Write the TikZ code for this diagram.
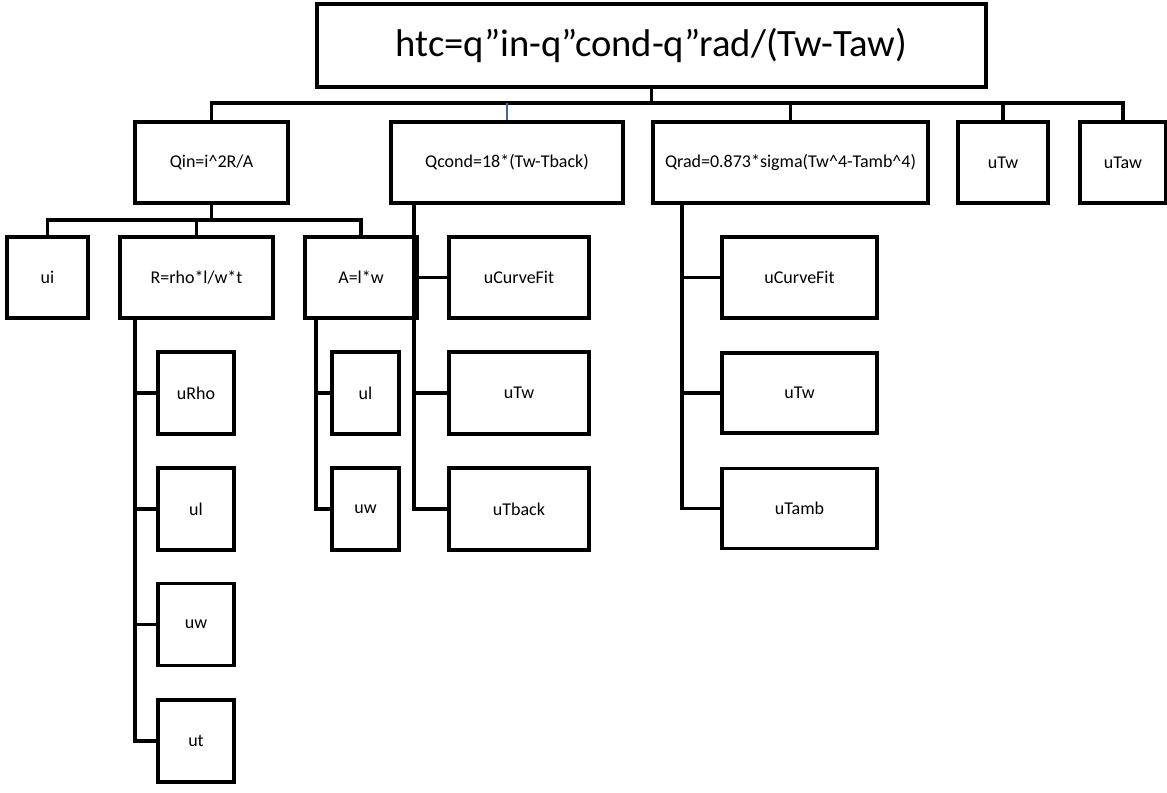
\documentclass[tikz,border=0pt]{standalone}
\usepackage{fontspec}
\setmainfont{Carlito}
\usepackage{xcolor}
\definecolor{LB}{RGB}{66,104,158}

\tikzset{
  box/.style={draw, line width=2.8pt, inner sep=0pt, align=center,
    font=\fontsize{12.8}{15}\selectfont},
  wire/.style={line width=2.4pt},
  bluewire/.style={LB, line width=1.6pt},
}

\begin{document}
\begin{tikzpicture}[x=0.025cm, y=-0.025cm]
\useasboundingbox (0,0) rectangle (1167,792);

% root
\node[box, minimum width=16.725cm, minimum height=2.075cm,
  font=\fontsize{27.5}{32}\selectfont] (htc) at (651.5,45.5)
  {htc=q”in-q”cond-q”rad/(Tw-Taw)};

% first level
\node[box, minimum width=3.825cm, minimum height=2.025cm] (qin)   at (211.5,162.5) {Qin=i\textasciicircum 2R/A};
\node[box, minimum width=5.8cm,   minimum height=2.025cm] (qcond) at (507,162.5)   {Qcond=18*(Tw-Tback)};
\node[box, minimum width=6.875cm, minimum height=2.025cm] (qrad)  at (790.5,162.5) {Qrad=0.873*sigma(Tw\textasciicircum 4-Tamb\textasciicircum 4)};
\node[box, minimum width=2.25cm,  minimum height=2.025cm] (utw)   at (1003,162.5)  {uTw};
\node[box, minimum width=2.15cm,  minimum height=2.025cm] (utaw)  at (1123,162.5)  {uTaw};

% second level
\node[box, minimum width=2.025cm, minimum height=2.025cm] (ui)    at (47.5,277.5)  {ui};
\node[box, minimum width=3.825cm, minimum height=2.025cm] (rbox)  at (196.5,277.5) {R=rho*l/w*t};
\node[box, minimum width=2.8cm,   minimum height=2.025cm] (abox)  at (361,277.5)   {A=l*w};
\node[box, minimum width=3.5cm,   minimum height=2.025cm] (qcfit) at (519,277.5)   {uCurveFit};
\node[box, minimum width=3.875cm, minimum height=2.025cm] (rcfit) at (799.5,277.5) {uCurveFit};

% leaves
\node[box, minimum width=1.9cm,   minimum height=2.05cm] (urho)   at (196,393)     {uRho};
\node[box, minimum width=1.9cm,   minimum height=2.05cm] (rul)    at (196,509)     {ul};
\node[box, minimum width=1.9cm,   minimum height=2.05cm] (ruw)    at (196,624.5)   {uw};
\node[box, minimum width=1.9cm,   minimum height=2.05cm] (rut)    at (196,741)     {ut};
\node[box, minimum width=1.675cm, minimum height=2.05cm] (aul)    at (365.5,393)   {ul};
\node[box, minimum width=1.675cm, minimum height=2.05cm] (auw)    at (365.5,509)   {uw};
\node[box, minimum width=3.5cm,   minimum height=2.05cm] (ctw)    at (519,393)     {uTw};
\node[box, minimum width=3.5cm,   minimum height=2.05cm] (ctback) at (519,509)     {uTback};
\node[box, minimum width=3.875cm, minimum height=2.0cm]  (rtw)    at (799.5,393)   {uTw};
\node[box, minimum width=3.875cm, minimum height=2.0cm]  (rtamb)  at (799.5,508.5) {uTamb};

% top bus
\coordinate (bus) at (652,103);
\draw[wire] (htc.south) -- (htc.south |- bus);
\draw[wire] (qin.north) |- (utaw.north |- bus) -- (utaw.north);
\foreach \n in {qrad,utw}
  \draw[wire] (\n.north) -- (\n.north |- bus);
\draw[bluewire] (qcond.north) -- (qcond.north |- bus);

% Qin bus
\coordinate (qbus) at (212,220);
\draw[wire] (qin.south) -- (qin.south |- qbus);
\draw[wire] (ui.north) |- (abox.north |- qbus) -- (abox.north);
\draw[wire] (rbox.north) -- (rbox.north |- qbus);

% trunks
\coordinate (rtop) at (135,318);
\coordinate (atop) at (316,318);
\coordinate (ctop) at (414,203);
\coordinate (qtop) at (682,203);

\draw[wire] (rtop) |- (rut.west);
\foreach \n in {urho,rul,ruw}
  \draw[wire] (\n.west) -- (\n.west -| rtop);

\draw[wire] (atop) |- (auw.west);
\draw[wire] (aul.west) -- (aul.west -| atop);

\draw[wire] (ctop) |- (ctback.west);
\foreach \n in {qcfit,ctw}
  \draw[wire] (\n.west) -- (\n.west -| ctop);

\draw[wire] (qtop) |- (rtamb.west);
\foreach \n in {rcfit,rtw}
  \draw[wire] (\n.west) -- (\n.west -| qtop);
\end{tikzpicture}
\end{document}
